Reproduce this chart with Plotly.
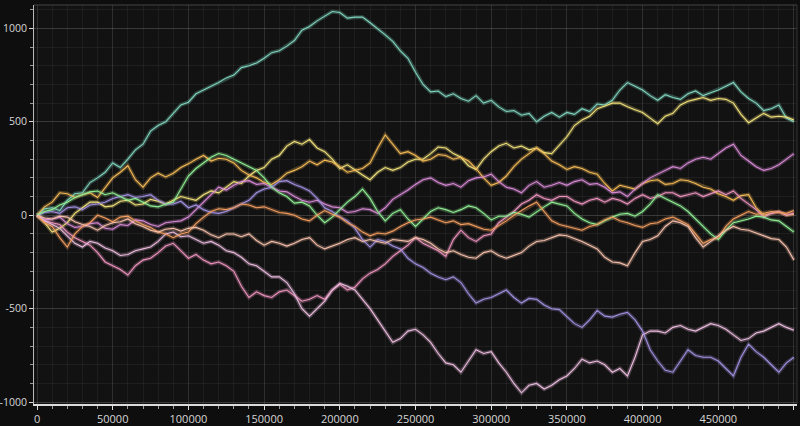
import plotly.graph_objects as go

STEP = 5000  # one value every 5000 steps, 0 .. 500000

teal = [0, 35, 40, 25, 80, 115, 120, 175, 200, 230, 280, 255, 300, 350, 380, 450, 480, 500, 545, 590,
        605, 650, 670, 690, 710, 735, 750, 790, 800, 815, 840, 870, 880, 905, 935, 990, 1010, 1040, 1065, 1090,
        1085, 1055, 1060, 1060, 1030, 1000, 965, 930, 880, 840, 765, 700, 660, 665, 635, 650, 625, 610, 640, 600,
        615, 580, 555, 560, 535, 545, 500, 530, 550, 525, 550, 540, 570, 555, 595, 590, 615, 670, 710, 690,
        670, 640, 615, 645, 630, 620, 650, 665, 640, 655, 670, 690, 710, 660, 625, 600, 560, 570, 590, 520,
        500]
yellow = [0, -40, -90, -70, -40, 10, 40, 70, 70, 45, 50, 75, 80, 55, 60, 85, 75, 60, 80, 100,
          90, 80, 110, 130, 120, 150, 180, 170, 210, 240, 255, 300, 320, 370, 395, 380, 405, 360, 340, 300,
          250, 270, 240, 215, 190, 230, 255, 240, 255, 285, 300, 300, 330, 365, 360, 330, 310, 265, 245, 300,
          340, 370, 385, 360, 370, 350, 360, 335, 330, 375, 420, 480, 510, 530, 570, 585, 600, 600, 580, 565,
          550, 520, 490, 530, 545, 590, 610, 620, 630, 615, 625, 620, 600, 540, 495, 520, 545, 525, 530, 525,
          510]
gold = [0, 45, 70, 120, 115, 95, 110, 120, 95, 150, 200, 230, 265, 190, 150, 200, 225, 205, 225, 255,
        275, 300, 320, 290, 305, 300, 280, 240, 215, 200, 175, 165, 190, 225, 240, 260, 290, 270, 295, 285,
        260, 230, 240, 250, 280, 360, 430, 380, 330, 340, 320, 290, 300, 325, 320, 300, 310, 290, 250, 200,
        160, 175, 210, 260, 300, 330, 360, 330, 290, 270, 245, 260, 250, 230, 220, 170, 130, 160, 150, 140,
        170, 185, 190, 165, 170, 190, 185, 170, 150, 140, 115, 100, 80, 105, 110, 40, 0, 10, 20, 0,
        5]
magenta = [0, -25, -20, -10, -45, -65, -60, -45, -40, -70, -75, -50, -55, -25, -30, -50, -60, -40, -35, -30,
           -10, 30, 70, 110, 150, 135, 160, 180, 185, 165, 170, 150, 130, 125, 100, 80, 70, 80, 60, 45,
           40, 15, 20, 35, 30, 10, 40, 85, 110, 135, 165, 190, 200, 175, 160, 170, 150, 185, 200, 205,
           220, 180, 150, 140, 120, 160, 180, 150, 160, 175, 160, 180, 190, 165, 170, 150, 120, 125, 100, 140,
           170, 200, 220, 240, 260, 250, 280, 300, 310, 300, 330, 360, 380, 320, 290, 260, 240, 250, 270, 300,
           330]
pink = [0, -30, -40, -50, -90, -120, -140, -160, -200, -250, -270, -290, -320, -270, -240, -230, -200, -165,
        -150, -190, -230, -210, -240, -260, -250, -270, -300, -380, -440, -410, -430, -440, -410, -400, -430,
        -460, -450, -430, -450, -400, -370, -400, -385, -340, -310, -290, -260, -220, -190, -160, -120, -150,
        -170, -190, -220, -130, -80, -120, -140, -110, -100, -40, -10, 20, 60, 80, 110, 90, 80, 100,
        100, 75, 60, 80, 90, 70, 90, 80, 60, 90, 110, 90, 100, 120, 120, 100, 110, 120, 100, 115,
        130, 110, 130, 90, 60, 30, -10, 10, 20, 0, 10]
light_pink = [0, -30, -50, -70, -110, -150, -170, -140, -150, -175, -190, -215, -210, -190, -180, -170, -140,
              -100, -90, -115, -110, -130, -150, -140, -160, -190, -200, -225, -260, -270, -300, -330, -330,
              -360, -420, -500, -540, -500, -460, -400, -365, -380, -400, -450, -500, -560, -620, -680, -660,
              -620, -610, -640, -680, -740, -790, -800, -840, -780, -720, -740, -730, -790, -840, -900, -950,
              -910, -900, -930, -910, -880, -860, -820, -770, -790, -780, -800, -840, -820, -860, -760, -640,
              -620, -620, -630, -600, -590, -610, -620, -600, -580, -590, -610, -640, -670, -660, -630, -620,
              -600, -580, -600, -615]
purple = [0, 15, 20, 10, 40, 45, 30, 55, 60, 70, 90, 100, 110, 95, 100, 110, 80, 60, 60, 75,
          40, 55, 30, 15, 10, 20, 40, 60, 80, 120, 140, 150, 180, 185, 165, 150, 130, 90, 40, 20,
          -10, -30, -70, -130, -170, -130, -140, -165, -180, -230, -260, -280, -310, -330, -345, -330, -360, -420,
          -470, -450, -440, -420, -400, -440, -470, -445, -450, -480, -500, -505, -540, -580, -600, -560, -510,
          -540, -545, -530, -520, -560, -620, -720, -780, -830, -840, -780, -720, -750, -760, -760, -780, -820,
          -860, -760, -690, -730, -760, -800, -840, -790, -760]
green = [0, 20, 30, 55, 70, 95, 110, 125, 130, 110, 120, 100, 80, 90, 70, 50, 45, 60, 70, 140,
         210, 250, 280, 310, 330, 320, 300, 280, 260, 240, 200, 150, 120, 100, 65, 70, 50, 0, -40, -10,
         30, 70, 100, 140, 90, 20, -30, 10, 30, -20, -60, -20, 20, 40, 30, 15, 30, 50, 40, 10,
         -25, -5, -5, 15, 5, -10, 20, 45, 70, 60, 50, 10, -20, -40, -50, -30, -10, 5, 10, -5,
         20, 60, 110, 90, 70, 50, 20, -20, -60, -100, -130, -80, -40, -30, -20, -5, -10, -25, -30, -60,
         -90]
orange = [0, -40, -60, -120, -170, -100, -60, -40, 0, -15, -35, -10, -5, -30, -50, -65, -90, -100, -120, -100,
          -90, -45, -10, 20, 35, 30, 40, 60, 55, 40, 45, 30, 15, 10, 0, -20, -30, 0, 25, 5,
          -10, -40, -60, -90, -110, -95, -100, -85, -60, -40, -25, -20, -10, -25, -40, -30, -50, -45, -60, -75,
          -80, -55, -30, 0, 25, 50, 70, 20, -30, -50, -60, -70, -80, -60, -50, -25, -10, -30, -40, -55,
          -65, -45, -40, -20, -10, -30, -50, -100, -150, -130, -120, -60, -20, 0, 20, 5, 10, 20, 15, 10,
          25]
peach = [0, -15, -20, -5, -10, -35, -50, -60, -80, -55, -40, -35, -20, -45, -60, -80, -90, -75, -70, -85,
         -70, -65, -80, -105, -120, -100, -100, -115, -100, -135, -160, -140, -150, -165, -150, -130, -120, -160,
         -180, -165, -150, -130, -120, -140, -130, -140, -150, -130, -135, -140, -120, -130, -150, -180, -200,
         -190, -210, -225, -230, -200, -190, -215, -230, -215, -200, -165, -140, -135, -120, -105, -110, -125,
         -140, -160, -180, -225, -250, -255, -270, -200, -140, -130, -110, -60, -30, -40, -60, -120, -170, -140,
         -110, -80, -60, -75, -80, -95, -110, -125, -130, -170, -240]

y_tick_vals = [-1000, -500, 0, 500, 1000]
y_tick_text = ["-1000", "-500", "0", "500", "1000"]

series = [
    (teal, "#7fd3bd"),
    (yellow, "#efe07a"),
    (gold, "#f4b955"),
    (magenta, "#d98ad6"),
    (pink, "#ec93bd"),
    (light_pink, "#ebbbdd"),
    (purple, "#a190e0"),
    (green, "#8eee92"),
    (orange, "#f09c5e"),
    (peach, "#f5bfaa"),
]


def hex_to_rgba(h, a):
    h = h.lstrip("#")
    r, g, b = int(h[0:2], 16), int(h[2:4], 16), int(h[4:6], 16)
    return f"rgba({r},{g},{b},{a})"


def steps_for(values):
    return [i * STEP for i in range(len(values))]


fig = go.Figure()

# fuzzy glow underneath, then the line itself
for values, color in series:
    fig.add_trace(go.Scatter(x=steps_for(values), y=values, mode="lines", hoverinfo="skip",
                             line=dict(color=hex_to_rgba(color, 0.28), width=4)))
for values, color in series:
    fig.add_trace(go.Scatter(x=steps_for(values), y=values, mode="lines",
                             line=dict(color=color, width=1.1)))

axis_font = dict(family="Open Sans, DejaVu Sans, sans-serif", size=11, color="#d6d6d6")
y_axis_font = dict(family="Open Sans, DejaVu Sans, sans-serif", size=10.5, color="#d6d6d6")

fig.update_xaxes(
    range=[-2000, 502000],
    dtick=50000,
    tick0=0,
    tickformat="d",
    showgrid=True,
    gridcolor="rgba(255,255,255,0.12)",
    gridwidth=1,
    zeroline=False,
    showline=True,
    linecolor="#dcdcdc",
    linewidth=2,
    ticks="outside",
    ticklen=4,
    tickcolor="#dcdcdc",
    tickfont=axis_font,
    automargin=False,
    minor=dict(dtick=10000, showgrid=True, gridcolor="rgba(255,255,255,0.05)",
               ticks="outside", ticklen=3, tickcolor="#9a9a9a"),
)
fig.update_yaxes(
    range=[-1010, 1125],
    tickmode="array",
    tickvals=y_tick_vals,
    ticktext=y_tick_text,
    showgrid=True,
    gridcolor="rgba(255,255,255,0.12)",
    gridwidth=1,
    zeroline=False,
    showline=True,
    linecolor="#b8b8b8",
    linewidth=1,
    ticks="outside",
    ticklen=4,
    tickcolor="#d8d8d8",
    tickfont=y_axis_font,
    automargin=False,
    minor=dict(tickmode="linear", tick0=0, dtick=100, showgrid=True,
               gridcolor="rgba(255,255,255,0.05)",
               ticks="outside", ticklen=3, tickcolor="#9a9a9a"),
)

# thin frame on top and right of the plot area
fig.add_shape(type="line", xref="paper", yref="paper", x0=0, x1=1, y0=1, y1=1,
              line=dict(color="#444444", width=1))
fig.add_shape(type="line", xref="paper", yref="paper", x0=1, x1=1, y0=0, y1=1,
              line=dict(color="#333333", width=1))

fig.update_layout(
    width=800,
    height=426,
    margin=dict(l=34, r=3, t=5, b=22),
    paper_bgcolor="#0e0e0e",
    plot_bgcolor="#121212",
    showlegend=False,
)

fig.write_html("out.html", config={"displayModeBar": False},
               post_script="document.body.style.margin='0';")
